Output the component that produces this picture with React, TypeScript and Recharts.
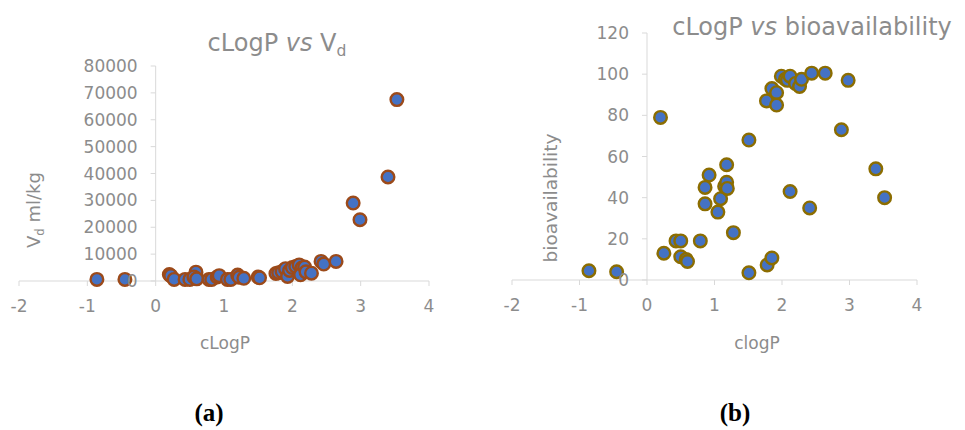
import React from "react";
import { ScatterChart, Scatter, XAxis, YAxis, ReferenceLine } from "recharts";

// cLogP vs Vd (ml/kg)
const vdX = [
  -0.86, -0.45, 0.2, 0.22, 0.27, 0.43, 0.5, 0.59, 0.56, 0.6, 0.78, 0.82, 0.9, 0.93, 1.05, 1.1, 1.2, 1.22, 1.29, 1.5, 1.52,
  1.76, 1.8, 1.85, 1.9, 1.93, 1.96, 2.0, 2.05, 2.1, 2.14, 2.12, 2.18, 2.2, 2.28, 2.42, 2.46, 2.64, 2.89, 2.99, 3.4, 3.53,
];
const vdY = [
  600, 600, 2400, 2000, 600, 600, 600, 3300, 1500, 800, 600, 600, 1500, 2000, 600, 600, 2200, 1400, 1000, 1500, 1200,
  2800, 3100, 3500, 4600, 1700, 3900, 5000, 5400, 6000, 4800, 2300, 5200, 3400, 2900, 7300, 6300, 7300, 29000, 22800,
  38700, 67500,
];

// cLogP vs bioavailability (%)
const bioX = [
  -0.86, -0.45, 0.2, 0.25, 0.43, 0.5, 0.5, 0.58, 0.6, 0.79, 0.86, 0.86, 0.92, 1.05, 1.09, 1.18, 1.15, 1.18, 1.19, 1.28,
  1.51, 1.51, 1.77, 1.78, 1.85, 1.85, 1.92, 1.92, 1.99, 2.05, 2.08, 2.12, 2.2, 2.26, 2.29, 2.12, 2.41, 2.44, 2.64, 2.88,
  2.98, 3.39, 3.52,
];
const bioY = [
  4.5, 4, 79, 13, 19, 19, 11.3, 10, 9, 19, 45, 37, 51, 33, 39.5, 56, 45.5, 47.5, 44.5, 23, 68, 3.5, 87, 7.3, 10.7, 93,
  91, 85, 99, 97.5, 97, 99, 95.5, 94, 97.5, 43, 35, 100.5, 100.5, 73, 97, 54, 40,
];

const xTicks = [-2, -1, 0, 1, 2, 3, 4];
const vdTicks = [0, 10000, 20000, 30000, 40000, 50000, 60000, 70000, 80000];
const bioTicks = [0, 20, 40, 60, 80, 100, 120];

const FONT = "'DejaVu Sans', sans-serif";
const GREY = "#8c8c8c";
const AXIS = "#d9d9d9";
const BLUE = "#4472c4";

const vdData = vdX.map((x, i) => ({ x, y: vdY[i] }));
const bioData = bioX.map((x, i) => ({ x, y: bioY[i] }));

const dot = (stroke: string) => (props: any) => (
  <circle cx={props.cx} cy={props.cy} r={6.3} fill={BLUE} stroke={stroke} strokeWidth={2.4} />
);

interface PanelProps {
  data: { x: number; y: number }[];
  yTicks: number[];
  yMax: number;
  width: number;
  height: number;
  margin: { top: number; left: number; right: number; bottom: number };
  zeroX: number;
  stroke: string;
}

const Panel = ({ data, yTicks, yMax, width, height, margin, zeroX, stroke }: PanelProps) => {
  // y tick labels sit beside the x = 0 axis, as Excel draws them
  const renderYTick = ({ y, payload }: any) => (
    <g>
      <line x1={zeroX - 5} x2={zeroX} y1={y} y2={y} stroke={AXIS} />
      <text x={zeroX - 18} y={y} textAnchor="end" dominantBaseline="central" fill={GREY} fontSize={17} fontFamily={FONT}>
        {payload.value}
      </text>
    </g>
  );

  return (
    <ScatterChart width={width} height={height} margin={margin}>
      <XAxis
        type="number"
        dataKey="x"
        domain={[-2, 4]}
        ticks={xTicks}
        allowDataOverflow
        height={49}
        stroke={AXIS}
        tickSize={5}
        tickMargin={14}
        tick={{ fill: GREY, fontSize: 17, fontFamily: FONT }}
      />
      <YAxis
        type="number"
        dataKey="y"
        domain={[0, yMax]}
        ticks={yTicks}
        interval={0}
        width={1}
        axisLine={false}
        tickLine={false}
        tick={renderYTick}
      />
      <ReferenceLine x={0} stroke={AXIS} />
      <Scatter data={data} shape={dot(stroke)} isAnimationActive={false} />
    </ScatterChart>
  );
};

const abs = (left: number, top: number, extra: React.CSSProperties = {}): React.CSSProperties => ({
  position: "absolute",
  left,
  top,
  transform: "translate(-50%, -50%)",
  whiteSpace: "nowrap",
  fontFamily: FONT,
  color: GREY,
  lineHeight: 1,
  ...extra,
});

const sub: React.CSSProperties = { fontSize: "0.65em", verticalAlign: "-0.3em", lineHeight: 0 };

export default function App() {
  return (
    <div style={{ position: "absolute", left: 0, top: 0, width: 965, height: 430, background: "#fff", overflow: "hidden" }}>
      <div style={{ position: "absolute", left: 0, top: 0 }}>
        <Panel
          data={vdData}
          yTicks={vdTicks}
          yMax={80000}
          width={480}
          height={330}
          margin={{ top: 66, left: 18, right: 51, bottom: 0 }}
          zeroX={19 + 410 / 3}
          stroke="#9c4a1a"
        />
      </div>
      <div style={{ position: "absolute", left: 480, top: 0 }}>
        <Panel
          data={bioData}
          yTicks={bioTicks}
          yMax={120}
          width={485}
          height={329}
          margin={{ top: 33, left: 31, right: 48, bottom: 0 }}
          zeroX={32 + 405 / 3}
          stroke="#8c6d00"
        />
      </div>

      <div style={abs(277, 43, { fontSize: 24 })}>
        cLogP <i>vs</i> V<span style={sub}>d</span>
      </div>
      <div style={abs(812, 27, { fontSize: 24 })}>
        cLogP <i>vs</i> bioavailability
      </div>

      <div style={abs(34, 210, { fontSize: 18, transform: "translate(-50%, -50%) rotate(-90deg)" })}>
        V<span style={sub}>d</span> ml/kg
      </div>
      <div style={abs(551, 198, { fontSize: 18.5, transform: "translate(-50%, -50%) rotate(-90deg)" })}>
        bioavailability
      </div>

      <div style={abs(225, 343, { fontSize: 17 })}>cLogP</div>
      <div style={abs(757, 343, { fontSize: 17 })}>clogP</div>

      <div style={abs(209, 412, { fontSize: 25, fontWeight: "bold", color: "#000", fontFamily: "'Liberation Serif', serif" })}>
        (a)
      </div>
      <div style={abs(735, 412, { fontSize: 25, fontWeight: "bold", color: "#000", fontFamily: "'Liberation Serif', serif" })}>
        (b)
      </div>
    </div>
  );
}
